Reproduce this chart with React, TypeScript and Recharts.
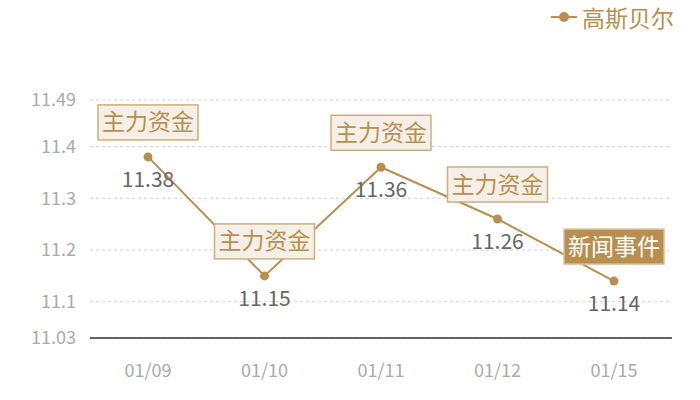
import React from "react";
import { LineChart, Line, XAxis, YAxis, CartesianGrid, LabelList } from "recharts";

const dates = ["01/09", "01/10", "01/11", "01/12", "01/15"];
const prices = [11.38, 11.15, 11.36, 11.26, 11.14];
const tags = ["主力资金", "主力资金", "主力资金", "主力资金", "新闻事件"];
const tagKinds = ["fund", "fund", "fund", "fund", "news"];
const yTicks = [11.03, 11.1, 11.2, 11.3, 11.4, 11.49];
const seriesName = "高斯贝尔";

const GOLD = "#b98f4f";

const data = dates.map((d, i) => ({ date: d, value: prices[i], tag: tags[i], kind: tagKinds[i] }));

const ValueLabel = (props: any) => {
  const { x, y, value } = props;
  return (
    <text x={x} y={y + 30} textAnchor="middle" fill="#666" fontSize={21}>
      {value}
    </text>
  );
};

const TagLabel = (props: any) => {
  const { x, y, value, index } = props;
  const isNews = tagKinds[index] === "news";
  const w = 100;
  const h = 35;
  const bottom = y - 17;
  return (
    <g>
      <rect
        x={x - w / 2}
        y={bottom - h}
        width={w}
        height={h}
        fill={isNews ? GOLD : "#f4efe7"}
        stroke={isNews ? "#d9c29c" : "#cfae7b"}
        strokeWidth={1.5}
      />
      <text
        x={x}
        y={bottom - h / 2 + 8}
        textAnchor="middle"
        fill={isNews ? "#ffffff" : GOLD}
        fontSize={23}
      >
        {value}
      </text>
    </g>
  );
};

export default function App() {
  return (
    <div
      style={{
        position: "absolute",
        left: 0,
        top: 0,
        width: 700,
        height: 400,
        background: "#fff",
        fontFamily: "'Noto Sans CJK SC', 'Noto Sans', sans-serif",
      }}
    >
      <div
        style={{
          position: "absolute",
          top: 3,
          right: 26,
          display: "flex",
          alignItems: "center",
          color: GOLD,
          fontSize: 23,
          lineHeight: "28px",
        }}
      >
        <svg width={28} height={14} style={{ marginRight: 3 }}>
          <line x1={0} y1={7} x2={26} y2={7} stroke={GOLD} strokeWidth={2} />
          <circle cx={13} cy={7} r={5} fill={GOLD} />
        </svg>
        <span>{seriesName}</span>
      </div>
      <LineChart width={700} height={400} data={data} margin={{ top: 100, right: 28, bottom: 0, left: 0 }}>
        <CartesianGrid vertical={false} stroke="#d0d0d0" strokeDasharray="3 3" />
        <XAxis
          dataKey="date"
          axisLine={{ stroke: "#333", strokeWidth: 1.5 }}
          tickLine={false}
          tick={{ fill: "#aaa", fontSize: 18 }}
          tickMargin={20}
          height={62}
          padding={{ left: 58, right: 58 }}
        />
        <YAxis
          domain={[11.03, 11.49]}
          ticks={yTicks}
          axisLine={false}
          tickLine={false}
          tick={{ fill: "#aaa", fontSize: 18 }}
          tickMargin={8}
          width={90}
          interval={0}
        />
        <Line
          type="linear"
          dataKey="value"
          name={seriesName}
          stroke={GOLD}
          strokeWidth={2}
          dot={{ r: 4.5, fill: GOLD, stroke: GOLD, strokeWidth: 0 }}
          isAnimationActive={false}
        >
          <LabelList dataKey="value" content={<ValueLabel />} />
          <LabelList dataKey="tag" content={<TagLabel />} />
        </Line>
      </LineChart>
    </div>
  );
}
